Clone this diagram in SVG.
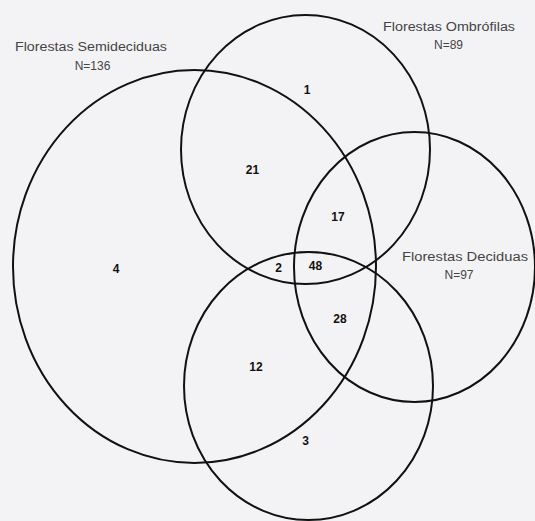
<svg xmlns="http://www.w3.org/2000/svg" width="535" height="521" viewBox="0 0 535 521">
<style>
.set{fill:none;stroke:#111;stroke-width:2}
.lbl{font-family:"Liberation Sans",Arial,sans-serif;font-size:12px;fill:#444;text-anchor:middle}
.num{font-family:"Liberation Sans",Arial,sans-serif;font-size:12px;font-weight:bold;fill:#111;text-anchor:middle}
</style>
<rect width="535" height="521" fill="#f3f3f6"/>
<g id="semideciduas">
<ellipse class="set" cx="194.5" cy="266.5" rx="181.5" ry="196.5"/>
<text class="lbl" x="91" y="50.5" textLength="152" lengthAdjust="spacingAndGlyphs">Florestas Semideciduas</text>
<text class="lbl" x="92.5" y="70">N=136</text>
</g>
<g id="ombrofilas">
<ellipse class="set" cx="305.5" cy="149.5" rx="124.5" ry="134.5"/>
<text class="lbl" x="449" y="30.5" textLength="132" lengthAdjust="spacingAndGlyphs">Florestas Ombrófilas</text>
<text class="lbl" x="448.5" y="49">N=89</text>
</g>
<g id="deciduas">
<ellipse class="set" cx="414.5" cy="267" rx="120.5" ry="135"/>
<text class="lbl" x="465" y="260.5" textLength="126" lengthAdjust="spacingAndGlyphs">Florestas Deciduas</text>
<text class="lbl" x="459" y="279">N=97</text>
</g>
<g id="inferior">
<ellipse class="set" cx="308.5" cy="386" rx="124.5" ry="134"/>
</g>
<g id="counts">
<text class="num" x="307" y="94">1</text>
<text class="num" x="252.5" y="173.5">21</text>
<text class="num" x="338" y="221">17</text>
<text class="num" x="116" y="272.5">4</text>
<text class="num" x="278.5" y="272">2</text>
<text class="num" x="315.5" y="270">48</text>
<text class="num" x="340" y="323">28</text>
<text class="num" x="256" y="370.5">12</text>
<text class="num" x="305.5" y="444.5">3</text>
</g>
</svg>
